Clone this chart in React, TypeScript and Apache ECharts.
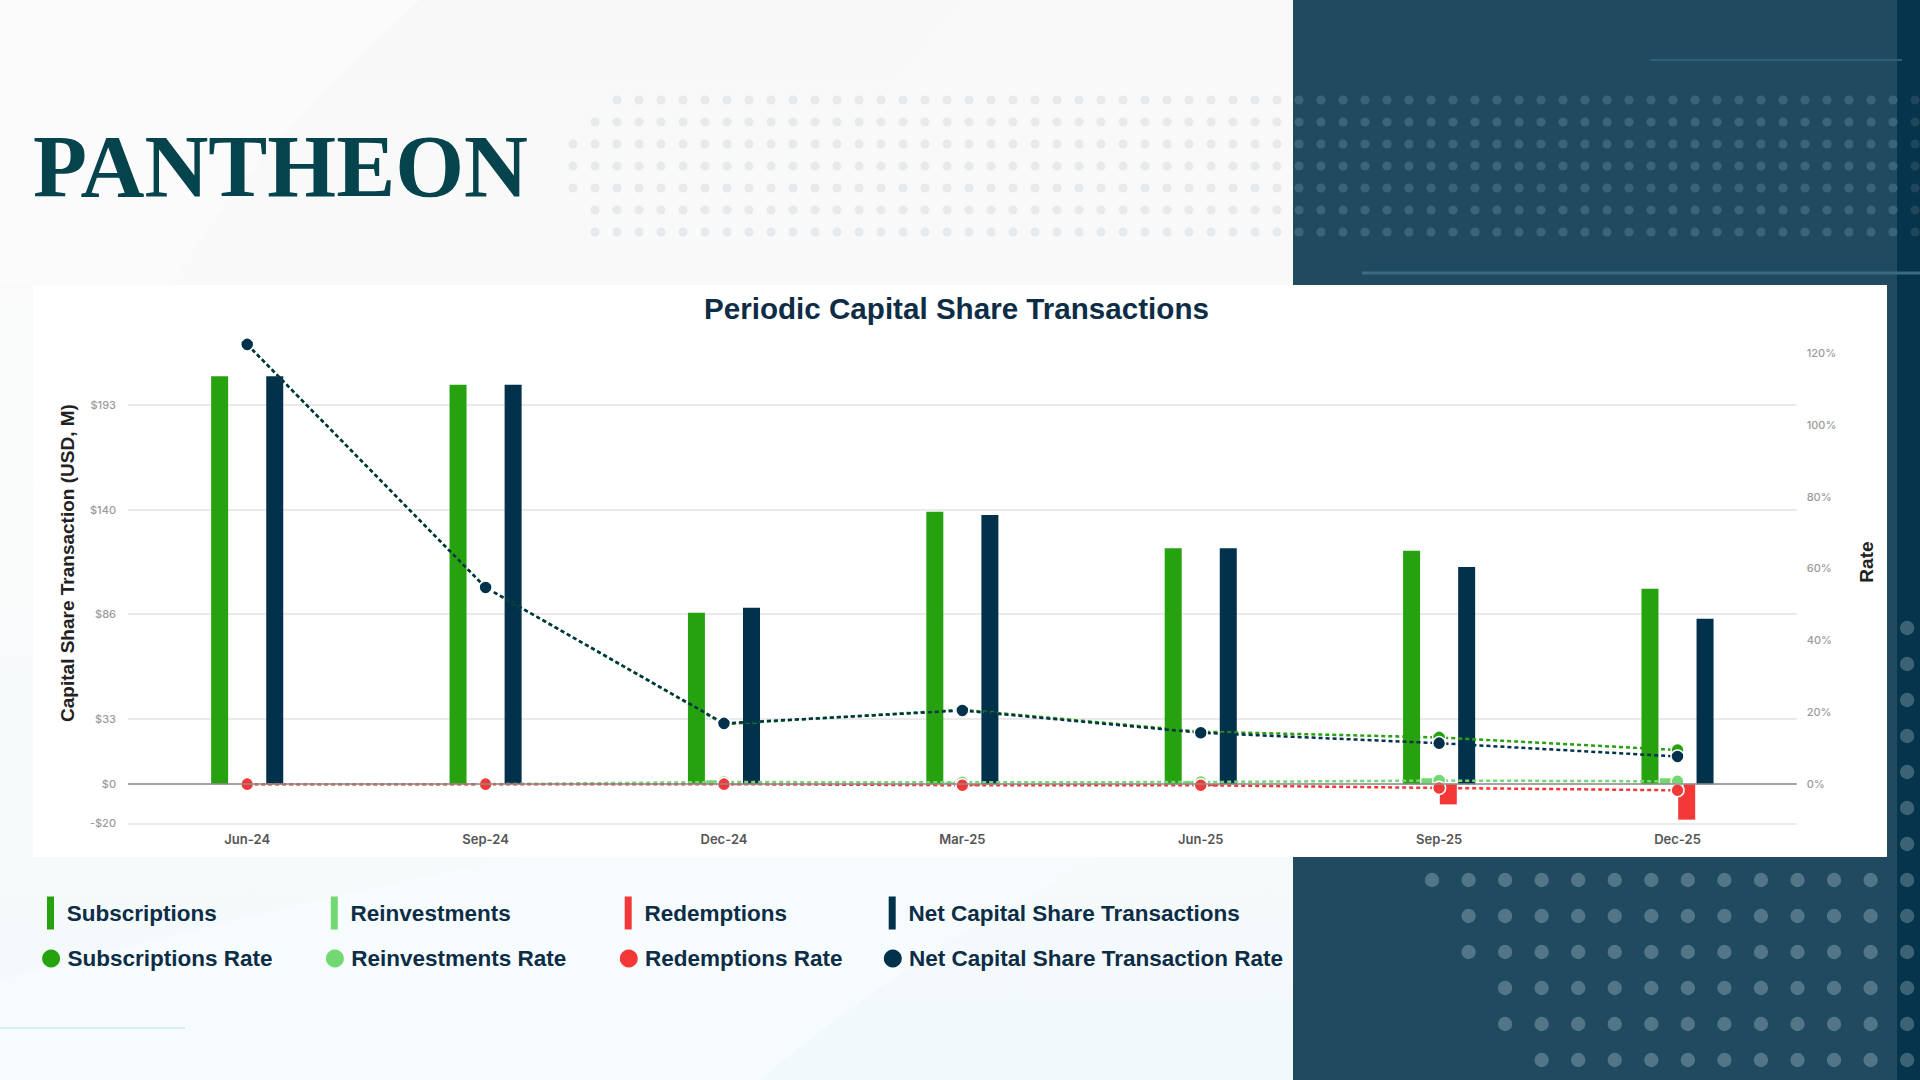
import React, { useEffect, useRef } from "react";
import * as echarts from "echarts";

// ---------- data ----------
const categories = ["Jun-24", "Sep-24", "Dec-24", "Mar-25", "Jun-25", "Sep-25", "Dec-25"];
const subscriptions = [208.0, 203.6, 87.4, 138.9, 120.3, 119.0, 99.6];
const reinvestments = [0, 0, 2.0, 1.0, 1.5, 3.0, 3.0];
const redemptions = [0, 0, -0.5, -0.8, -1.0, -10.3, -18.1];
const netTransactions = [208.0, 203.6, 90.0, 137.2, 120.3, 110.7, 84.3];

const subscriptionsRate = [122.3, 54.7, 16.7, 20.7, 14.6, 13.0, 9.5];
const reinvestmentsRate = [0, 0, 0.6, 0.5, 0.6, 1.0, 0.8];
const redemptionsRate = [0, 0, 0, -0.3, -0.3, -1.05, -1.7];
const netRate = [122.3, 54.7, 16.9, 20.5, 14.3, 11.4, 7.7];

const leftTickValues = [-20, 0, 100 / 3, 260 / 3, 140, 580 / 3];
const rightTickValues = [0, 20, 40, 60, 80, 100, 120];

// ---------- styling ----------
const C_SUB = "#27a20f";
const C_REI = "#72d872";
const C_RED = "#f43838";
const C_NET = "#02324b";
const NAVY_TEXT = "#0d2d46";

const W = 1920;
const H = 1080;

function Background() {
  const smallDots: React.ReactElement[] = [];
  const smallRowStart = [2, 1, 0, 0, 0, 1, 1];
  for (let r = 0; r < 7; r++) {
    const y = 100 + 22 * r;
    for (let k = smallRowStart[r]; k <= 61; k++) {
      const x = 573 + 22 * k;
      const fill = x < 1293 ? "#e6eaed" : x < 1897 ? "#3a6479" : "#1f465b";
      smallDots.push(<circle key={`s${r}-${k}`} cx={x} cy={y} r={4.6} fill={fill} />);
    }
  }
  const bigDots: React.ReactElement[] = [];
  for (let r = 0; r < 13; r++) {
    const y = 628 + 36 * r;
    let start = 0;
    if (y === 916 || y === 952) start = 1;
    if (y === 988 || y === 1024) start = 2;
    if (y === 1060) start = 3;
    for (let k = start; k <= 13; k++) {
      const x = 1432 + 36.55 * k;
      const fill = x > 1897 ? "#3e6275" : "#527687";
      bigDots.push(<circle key={`b${r}-${k}`} cx={x} cy={y} r={7.2} fill={fill} />);
    }
  }
  return (
    <svg width={W} height={H} style={{ position: "absolute", left: 0, top: 0 }}>
      <defs>
        <linearGradient id="bgL" x1="0" y1="0" x2="0" y2="1">
          <stop offset="0" stopColor="#f8f8f8" />
          <stop offset="0.45" stopColor="#fafbfb" />
          <stop offset="1" stopColor="#f2f9fb" />
        </linearGradient>
      </defs>
      <rect x={0} y={0} width={W} height={H} fill="url(#bgL)" />
      <path d="M0,0 L420,0 Q260,140 170,285 L0,285 Z" fill="#fbfbfb" />
      <path d="M960,0 L1293,0 L1293,285 L760,285 Q870,120 960,0 Z" fill="#f9f9f9" />
      <path d="M0,1080 L0,980 Q300,900 520,857 L1100,857 Q900,960 760,1080 Z" fill="#f6fbfd" />
      <rect x={1293} y={0} width={627} height={H} fill="#1f4a5f" />
      <rect x={1897} y={0} width={23} height={H} fill="#06344c" />
      {smallDots}
      {bigDots}
      <line x1={1650} y1={60} x2={1902} y2={60} stroke="#2e5f77" strokeWidth={2} />
      <line x1={1362} y1={273} x2={1920} y2={273} stroke="#3c6b81" strokeWidth={3} />
      <line x1={0} y1={1028} x2={185} y2={1028} stroke="#d6edf5" strokeWidth={2} />
      <rect x={33} y={285} width={1854} height={572} fill="#ffffff" />
    </svg>
  );
}

export default function App() {
  const ref = useRef<HTMLDivElement>(null);

  useEffect(() => {
    if (!ref.current) return;
    const chart = echarts.init(ref.current, undefined, { renderer: "svg" });

    const barBase = {
      type: "bar",
      barWidth: 17,
      barGap: "8%",
      yAxisIndex: 0,
    };
    const lineBase = (color: string) => ({
      type: "line",
      yAxisIndex: 1,
      symbol: "circle",
      symbolSize: 13,
      showSymbol: true,
      clip: false,
      lineStyle: { color, width: 2.5, type: [4, 3] },
      itemStyle: { color, borderColor: "#ffffff", borderWidth: 1.5 },
      z: 4,
    });

    const legendText = {
      color: NAVY_TEXT,
      fontSize: 22.5,
      fontWeight: "bold",
      fontFamily: "Liberation Sans, Arial, sans-serif",
    };
    const barIcon = "path://M0,0L7,0L7,33L0,33Z";
    const cols = [
      { c: 51, bar: "Subscriptions", rate: "Subscriptions Rate" },
      { c: 334.8, bar: "Reinvestments", rate: "Reinvestments Rate" },
      { c: 628.7, bar: "Redemptions", rate: "Redemptions Rate" },
      { c: 892.7, bar: "Net Capital Share Transactions", rate: "Net Capital Share Transaction Rate" },
    ];
    const legends: any[] = [];
    cols.forEach((col) => {
      legends.push({
        data: [col.bar],
        left: col.c - 11.3 + 7.3,
        top: 896.5,
        padding: 0,
        itemGap: 0,
        itemWidth: 22.6,
        itemHeight: 33,
        icon: barIcon,
        selectedMode: false,
        textStyle: legendText,
        itemStyle: { borderWidth: 0 },
      });
      legends.push({
        data: [col.rate],
        left: col.c - 11.3 + 2.4,
        top: 947,
        padding: 0,
        itemGap: 0,
        itemWidth: 22.6,
        itemHeight: 18,
        icon: "circle",
        selectedMode: false,
        textStyle: { ...legendText, lineHeight: 22 },
        itemStyle: { borderWidth: 0 },
      });
    });

    const option: any = {
      animation: false,
      backgroundColor: "transparent",
      title: {
        text: "Periodic Capital Share Transactions",
        left: 704,
        top: 293.5,
        padding: 0,
        textStyle: {
          fontSize: 29.6,
          fontWeight: "bold",
          color: NAVY_TEXT,
          fontFamily: "Liberation Sans, Arial, sans-serif",
        },
      },
      graphic: {
        elements: [
          {
            type: "text",
            x: 33,
            y: 165.5,
            style: {
              text: "PANTHEON",
              fill: "#05434d",
              font: "bold 88.5px 'Liberation Serif', 'Times New Roman', serif",
              textAlign: "left",
              textVerticalAlign: "middle",
            },
          },
        ],
      },
      legend: legends,
      grid: {
        left: 128,
        right: 123.3,
        top: 352.7,
        bottom: 256.6,
        containLabel: false,
        outerBoundsMode: "none",
      },
      xAxis: {
        type: "category",
        data: categories,
        axisLine: { show: false },
        axisTick: { show: false },
        splitLine: { show: false },
        axisLabel: {
          color: "#555555",
          fontSize: 13,
          fontWeight: 600,
          fontFamily: "Inter, sans-serif",
          margin: 9,
        },
      },
      yAxis: [
        {
          type: "value",
          position: "left",
          min: -20,
          max: 220,
          axisLine: { show: false },
          axisTick: { show: false, customValues: leftTickValues },
          axisLabel: {
            customValues: leftTickValues,
            formatter: (v: number) => (v < 0 ? "-$" : "$") + Math.trunc(Math.abs(v) + 1e-6),
            color: "#9a9a9a",
            fontSize: 11,
            fontWeight: 500,
            fontFamily: "Inter, sans-serif",
            margin: 12,
          },
          splitLine: { show: true, lineStyle: { color: "#e3e3e3", width: 1.5 } },
          name: "Capital Share Transaction (USD, M)",
          nameLocation: "middle",
          nameGap: 51,
          nameRotate: 90,
          nameTextStyle: {
            fontSize: 19,
            fontWeight: "bold",
            color: "#222222",
            fontFamily: "Liberation Sans, Arial, sans-serif",
            padding: [0, 0, 0, 50],
          },
        },
        {
          type: "value",
          position: "right",
          min: (-120 * 20) / 220,
          max: 120,
          axisLine: { show: false },
          axisTick: { show: false, customValues: rightTickValues },
          axisLabel: {
            customValues: rightTickValues,
            formatter: "{value}%",
            color: "#9a9a9a",
            fontSize: 11,
            fontWeight: 500,
            fontFamily: "Inter, sans-serif",
            margin: 10,
          },
          splitLine: { show: false },
          name: "Rate",
          nameLocation: "middle",
          nameGap: 60,
          nameRotate: 90,
          nameTextStyle: {
            fontSize: 19,
            fontWeight: "bold",
            color: "#222222",
            fontFamily: "Liberation Sans, Arial, sans-serif",
            padding: [0, 0, 0, 52],
          },
        },
      ],
      series: [
        { ...barBase, name: "Subscriptions", data: subscriptions, itemStyle: { color: C_SUB } },
        { ...barBase, name: "Reinvestments", data: reinvestments, itemStyle: { color: C_REI } },
        { ...barBase, name: "Redemptions", data: redemptions, itemStyle: { color: C_RED } },
        {
          ...barBase,
          name: "Net Capital Share Transactions",
          data: netTransactions,
          itemStyle: { color: C_NET },
          markLine: {
            silent: true,
            symbol: "none",
            label: { show: false },
            lineStyle: { color: "#8c8c8c", width: 1.5, type: "solid" },
            data: [{ yAxis: 0 }],
          },
        },
        { ...lineBase(C_SUB), name: "Subscriptions Rate", data: subscriptionsRate },
        { ...lineBase(C_REI), name: "Reinvestments Rate", data: reinvestmentsRate },
        { ...lineBase(C_RED), name: "Redemptions Rate", data: redemptionsRate },
        { ...lineBase(C_NET), name: "Net Capital Share Transaction Rate", data: netRate, z: 5 },
      ],
    };

    chart.setOption(option);
    return () => chart.dispose();
  }, []);

  return (
    <div
      style={{
        position: "fixed",
        left: 0,
        top: 0,
        width: W,
        height: H,
        overflow: "hidden",
      }}
    >
      <Background />
      <div ref={ref} style={{ position: "absolute", left: 0, top: 0, width: W, height: H }} />
    </div>
  );
}
